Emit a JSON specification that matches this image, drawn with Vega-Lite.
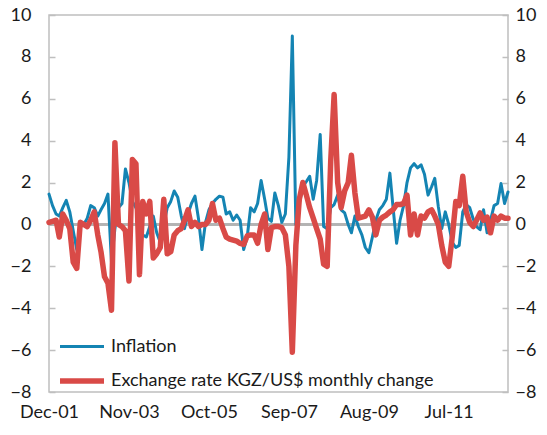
{
  "$schema": "https://vega.github.io/schema/vega-lite/v6.json",
  "width": 459,
  "height": 377,
  "autosize": {"type": "none"},
  "padding": {"left": 49, "top": 15, "right": 39, "bottom": 43},
  "background": "white",
  "config": {
    "font": "Lato",
    "view": {"stroke": "#bfbfbf", "strokeWidth": 1.5},
    "axis": {"labelFont": "Lato", "labelFontSize": 18, "labelColor": "#1a1a1a", "grid": false, "title": null},
    "legend": {"labelFont": "Lato", "labelFontSize": 18, "labelColor": "#1a1a1a"}
  },
  "data": {
    "values": [
      {"d":"2001-12-01","inf":1.45,"fx":0.1},
      {"d":"2002-01-01","inf":0.9,"fx":0.15},
      {"d":"2002-02-01","inf":0.5,"fx":0.2},
      {"d":"2002-03-01","inf":0.4,"fx":-0.6},
      {"d":"2002-04-01","inf":0.8,"fx":0.5},
      {"d":"2002-05-01","inf":1.15,"fx":0.2},
      {"d":"2002-06-01","inf":0.6,"fx":-0.2},
      {"d":"2002-07-01","inf":-0.3,"fx":-1.8},
      {"d":"2002-08-01","inf":-1.2,"fx":-2.1},
      {"d":"2002-09-01","inf":0.1,"fx":0.1},
      {"d":"2002-10-01","inf":0.0,"fx":0.0},
      {"d":"2002-11-01","inf":0.3,"fx":-0.1},
      {"d":"2002-12-01","inf":0.9,"fx":0.2},
      {"d":"2003-01-01","inf":0.8,"fx":0.6},
      {"d":"2003-02-01","inf":0.4,"fx":-0.5},
      {"d":"2003-03-01","inf":0.7,"fx":-1.3},
      {"d":"2003-04-01","inf":1.0,"fx":-2.5},
      {"d":"2003-05-01","inf":1.45,"fx":-2.8},
      {"d":"2003-06-01","inf":-1.8,"fx":-4.1},
      {"d":"2003-07-01","inf":-0.2,"fx":3.9},
      {"d":"2003-08-01","inf":0.8,"fx":0.0},
      {"d":"2003-09-01","inf":1.0,"fx":-0.1},
      {"d":"2003-10-01","inf":2.65,"fx":-0.3},
      {"d":"2003-11-01","inf":2.0,"fx":-2.7},
      {"d":"2003-12-01","inf":1.1,"fx":3.1},
      {"d":"2004-01-01","inf":0.8,"fx":2.9},
      {"d":"2004-02-01","inf":0.3,"fx":-2.4},
      {"d":"2004-03-01","inf":-0.5,"fx":1.1},
      {"d":"2004-04-01","inf":-0.6,"fx":0.5},
      {"d":"2004-05-01","inf":-0.1,"fx":1.1},
      {"d":"2004-06-01","inf":0.4,"fx":-1.6},
      {"d":"2004-07-01","inf":-0.4,"fx":-1.4},
      {"d":"2004-08-01","inf":-0.85,"fx":-1.1},
      {"d":"2004-09-01","inf":0.0,"fx":1.2},
      {"d":"2004-10-01","inf":0.8,"fx":-1.4},
      {"d":"2004-11-01","inf":1.1,"fx":-1.3},
      {"d":"2004-12-01","inf":1.6,"fx":-0.5},
      {"d":"2005-01-01","inf":1.3,"fx":-0.3},
      {"d":"2005-02-01","inf":0.4,"fx":-0.2},
      {"d":"2005-03-01","inf":-0.2,"fx":0.2},
      {"d":"2005-04-01","inf":0.5,"fx":0.7},
      {"d":"2005-05-01","inf":1.0,"fx":-0.1},
      {"d":"2005-06-01","inf":1.35,"fx":0.1},
      {"d":"2005-07-01","inf":0.3,"fx":-0.1},
      {"d":"2005-08-01","inf":-1.2,"fx":0.0},
      {"d":"2005-09-01","inf":0.1,"fx":0.0},
      {"d":"2005-10-01","inf":0.7,"fx":0.2},
      {"d":"2005-11-01","inf":1.0,"fx":1.0},
      {"d":"2005-12-01","inf":1.2,"fx":0.2},
      {"d":"2006-01-01","inf":1.35,"fx":0.3},
      {"d":"2006-02-01","inf":1.3,"fx":-0.2},
      {"d":"2006-03-01","inf":0.5,"fx":-0.6},
      {"d":"2006-04-01","inf":0.6,"fx":-0.7},
      {"d":"2006-05-01","inf":0.2,"fx":-0.75},
      {"d":"2006-06-01","inf":0.45,"fx":-0.8},
      {"d":"2006-07-01","inf":0.2,"fx":-0.9},
      {"d":"2006-08-01","inf":-1.2,"fx":-0.95},
      {"d":"2006-09-01","inf":-0.6,"fx":-0.55},
      {"d":"2006-10-01","inf":0.8,"fx":-0.5},
      {"d":"2006-11-01","inf":0.6,"fx":-0.5},
      {"d":"2006-12-01","inf":1.0,"fx":-0.9},
      {"d":"2007-01-01","inf":2.1,"fx":0.0},
      {"d":"2007-02-01","inf":1.2,"fx":0.5},
      {"d":"2007-03-01","inf":0.3,"fx":-1.2},
      {"d":"2007-04-01","inf":0.15,"fx":-0.15},
      {"d":"2007-05-01","inf":1.5,"fx":-0.1},
      {"d":"2007-06-01","inf":0.9,"fx":-0.1},
      {"d":"2007-07-01","inf":0.1,"fx":-0.15},
      {"d":"2007-08-01","inf":0.5,"fx":-0.5},
      {"d":"2007-09-01","inf":3.2,"fx":-2.0},
      {"d":"2007-10-01","inf":9.0,"fx":-6.1},
      {"d":"2007-11-01","inf":0.0,"fx":-1.0},
      {"d":"2007-12-01","inf":1.0,"fx":1.2},
      {"d":"2008-01-01","inf":1.8,"fx":2.0},
      {"d":"2008-02-01","inf":2.05,"fx":1.4},
      {"d":"2008-03-01","inf":2.3,"fx":0.8},
      {"d":"2008-04-01","inf":1.2,"fx":0.3},
      {"d":"2008-05-01","inf":2.1,"fx":-0.2},
      {"d":"2008-06-01","inf":4.3,"fx":-0.7},
      {"d":"2008-07-01","inf":-0.1,"fx":-1.9},
      {"d":"2008-08-01","inf":-0.2,"fx":-2.0},
      {"d":"2008-09-01","inf":0.8,"fx":3.0},
      {"d":"2008-10-01","inf":0.95,"fx":6.2},
      {"d":"2008-11-01","inf":1.4,"fx":2.0},
      {"d":"2008-12-01","inf":0.7,"fx":0.8},
      {"d":"2009-01-01","inf":0.55,"fx":1.6},
      {"d":"2009-02-01","inf":0.0,"fx":2.0},
      {"d":"2009-03-01","inf":-0.4,"fx":3.3},
      {"d":"2009-04-01","inf":0.4,"fx":1.5},
      {"d":"2009-05-01","inf":-0.1,"fx":0.3},
      {"d":"2009-06-01","inf":-0.5,"fx":0.35},
      {"d":"2009-07-01","inf":-1.1,"fx":0.4},
      {"d":"2009-08-01","inf":-1.35,"fx":0.7},
      {"d":"2009-09-01","inf":-0.6,"fx":0.35},
      {"d":"2009-10-01","inf":0.2,"fx":-0.5},
      {"d":"2009-11-01","inf":0.7,"fx":0.2},
      {"d":"2009-12-01","inf":0.9,"fx":0.35},
      {"d":"2010-01-01","inf":1.2,"fx":0.45},
      {"d":"2010-02-01","inf":2.45,"fx":0.6},
      {"d":"2010-03-01","inf":0.8,"fx":0.7},
      {"d":"2010-04-01","inf":-0.9,"fx":0.95},
      {"d":"2010-05-01","inf":0.2,"fx":0.95},
      {"d":"2010-06-01","inf":0.9,"fx":1.0},
      {"d":"2010-07-01","inf":2.0,"fx":1.4},
      {"d":"2010-08-01","inf":2.7,"fx":-0.5},
      {"d":"2010-09-01","inf":2.9,"fx":0.5},
      {"d":"2010-10-01","inf":2.7,"fx":-0.5},
      {"d":"2010-11-01","inf":2.85,"fx":0.4},
      {"d":"2010-12-01","inf":2.4,"fx":0.3},
      {"d":"2011-01-01","inf":1.4,"fx":0.6},
      {"d":"2011-02-01","inf":1.8,"fx":0.7},
      {"d":"2011-03-01","inf":2.2,"fx":0.4},
      {"d":"2011-04-01","inf":0.85,"fx":0.0},
      {"d":"2011-05-01","inf":-0.2,"fx":-1.0},
      {"d":"2011-06-01","inf":0.6,"fx":-1.8},
      {"d":"2011-07-01","inf":0.0,"fx":-2.0},
      {"d":"2011-08-01","inf":-0.85,"fx":-0.6},
      {"d":"2011-09-01","inf":-1.1,"fx":1.1},
      {"d":"2011-10-01","inf":-1.0,"fx":0.9},
      {"d":"2011-11-01","inf":0.6,"fx":2.3},
      {"d":"2011-12-01","inf":0.95,"fx":0.6},
      {"d":"2012-01-01","inf":0.8,"fx":0.1},
      {"d":"2012-02-01","inf":0.25,"fx":-0.1},
      {"d":"2012-03-01","inf":-0.1,"fx":0.2},
      {"d":"2012-04-01","inf":-0.25,"fx":0.55},
      {"d":"2012-05-01","inf":0.7,"fx":0.2},
      {"d":"2012-06-01","inf":-0.4,"fx":0.35},
      {"d":"2012-07-01","inf":0.2,"fx":-0.4},
      {"d":"2012-08-01","inf":0.9,"fx":0.4},
      {"d":"2012-09-01","inf":1.0,"fx":0.2},
      {"d":"2012-10-01","inf":1.95,"fx":0.4},
      {"d":"2012-11-01","inf":1.0,"fx":0.3},
      {"d":"2012-12-01","inf":1.55,"fx":0.3}
    ]
  },
  "layer": [
    {
      "mark": {"type": "rule", "color": "#b3b3b3", "strokeWidth": 1.5},
      "encoding": {
        "y": {
          "datum": 0,
          "type": "quantitative",
          "scale": {"domain": [-8, 10], "nice": false, "zero": false},
          "axis": {
            "orient": "right",
            "values": [-8, -6, -4, -2, 0, 2, 4, 6, 8, 10],
            "domain": false,
            "ticks": true,
            "tickSize": -6,
            "tickColor": "#bfbfbf",
            "tickWidth": 1.5,
            "labelPadding": 13,
            "labelAlign": "left"
          }
        }
      }
    },
    {
      "transform": [{"fold": ["inf", "fx"], "as": ["series", "value"]}],
      "mark": {"type": "line", "strokeJoin": "round", "strokeCap": "round"},
      "encoding": {
        "x": {
          "field": "d",
          "type": "temporal",
          "scale": {"type": "utc", "nice": false},
          "axis": {
            "values": [
              {"year": 2001, "month": 12, "date": 1, "utc": true},
              {"year": 2003, "month": 11, "date": 1, "utc": true},
              {"year": 2005, "month": 10, "date": 1, "utc": true},
              {"year": 2007, "month": 9, "date": 1, "utc": true},
              {"year": 2009, "month": 8, "date": 1, "utc": true},
              {"year": 2011, "month": 7, "date": 1, "utc": true}
            ],
            "format": "%b-%y",
            "domain": false,
            "ticks": false,
            "labelPadding": 11,
            "labelFlush": false,
            "labelOverlap": false
          }
        },
        "y": {
          "field": "value",
          "type": "quantitative",
          "axis": {
            "orient": "left",
            "values": [-8, -6, -4, -2, 0, 2, 4, 6, 8, 10],
            "domain": false,
            "ticks": true,
            "tickSize": -6,
            "tickColor": "#bfbfbf",
            "tickWidth": 1.5,
            "labelPadding": 24
          }
        },
        "color": {
          "field": "series",
          "type": "nominal",
          "scale": {"domain": ["inf", "fx"], "range": ["#1484b3", "#d94a47"]},
          "legend": {
            "orient": "none",
            "legendX": 8,
            "legendY": 308,
            "title": null,
            "symbolType": "stroke",
            "symbolSize": 1936,
            "labelOffset": 4,
            "labelLimit": 0,
            "rowPadding": -17,
            "labelExpr": "datum.label == 'inf' ? 'Inflation' : 'Exchange rate KGZ/US$ monthly change'"
          }
        },
        "strokeWidth": {
          "field": "series",
          "type": "nominal",
          "scale": {"domain": ["inf", "fx"], "range": [3, 5.5]},
          "legend": {
            "orient": "none",
            "legendX": 8,
            "legendY": 308,
            "title": null,
            "symbolType": "stroke",
            "symbolSize": 1936,
            "labelOffset": 4,
            "labelLimit": 0,
            "rowPadding": -17,
            "labelExpr": "datum.label == 'inf' ? 'Inflation' : 'Exchange rate KGZ/US$ monthly change'"
          }
        }
      }
    }
  ],
  "resolve": {"axis": {"y": "independent"}}
}
